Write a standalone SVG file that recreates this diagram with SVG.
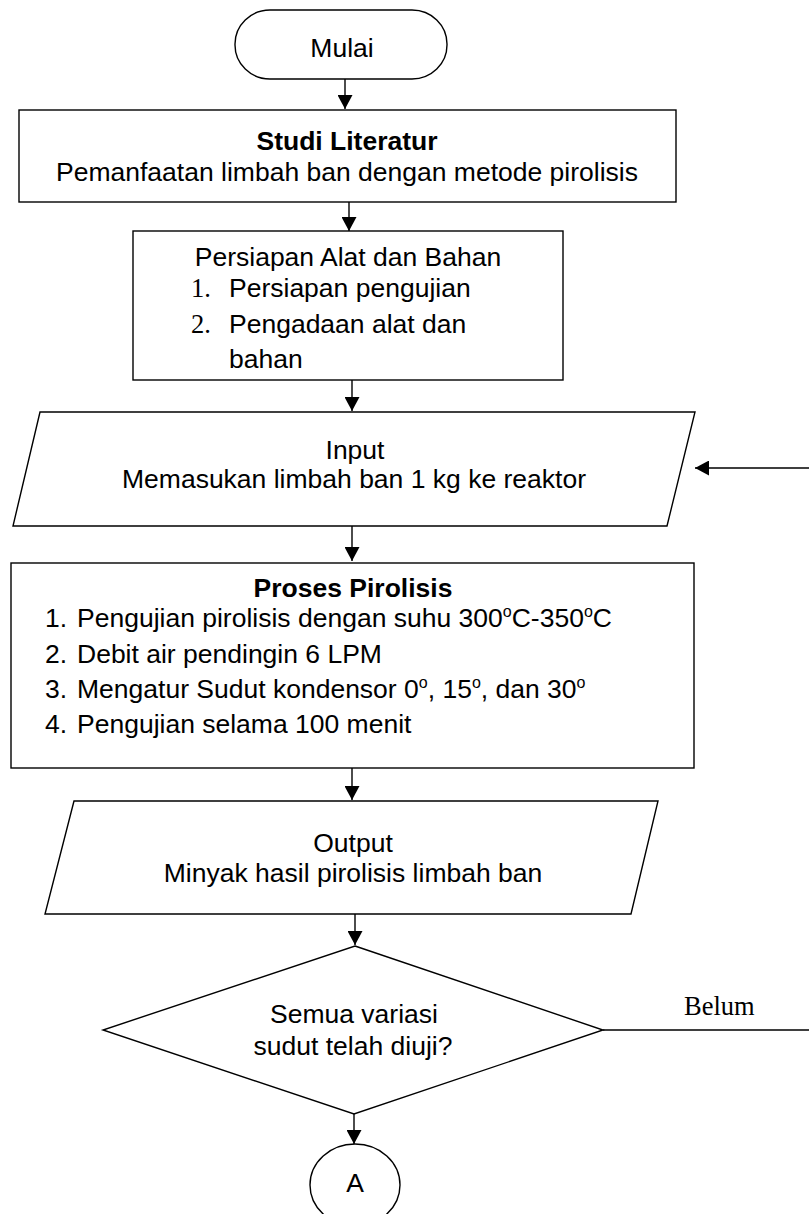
<svg xmlns="http://www.w3.org/2000/svg" width="809" height="1214" viewBox="0 0 809 1214">
<style>
.s{fill:#fff;stroke:#000;stroke-width:1.4}
.t{font-family:"Liberation Sans",Arial,sans-serif;font-size:26.5px;fill:#000}
.c{text-anchor:middle}
.b{font-weight:bold}
.r{font-family:"Liberation Serif","Times New Roman",serif;font-size:26.5px;fill:#000}
.ln{fill:none;stroke:#000;stroke-width:1.4}
.sup{font-size:16px}
</style>
<defs>
<marker id="ah" markerUnits="userSpaceOnUse" markerWidth="15" markerHeight="15" refX="14" refY="7.5" orient="auto">
<path d="M0,0 L14,7.5 L0,15 z" fill="#000"/>
</marker>
</defs>
<rect width="809" height="1214" fill="#fff"/>
<g id="connectors">
<line class="ln" x1="345" y1="79" x2="345" y2="109" marker-end="url(#ah)"/>
<line class="ln" x1="349" y1="202" x2="349" y2="231" marker-end="url(#ah)"/>
<line class="ln" x1="352" y1="380" x2="352" y2="411" marker-end="url(#ah)"/>
<line class="ln" x1="352" y1="526" x2="352" y2="561" marker-end="url(#ah)"/>
<line class="ln" x1="352" y1="768" x2="352" y2="800" marker-end="url(#ah)"/>
<line class="ln" x1="355" y1="914" x2="355" y2="945" marker-end="url(#ah)"/>
<line class="ln" x1="354" y1="1114" x2="354" y2="1144" marker-end="url(#ah)"/>
<path class="ln" d="M603,1030 H815 V468 H695" marker-end="url(#ah)"/>
<text class="r" x="684" y="1015">Belum</text>
</g>
<g id="mulai">
<rect class="s" x="235" y="10" width="212" height="69" rx="35" ry="34"/>
<text class="t c" x="342" y="57">Mulai</text>
</g>
<g id="studi">
<rect class="s" x="19" y="110" width="657" height="92"/>
<text class="t c b" x="347" y="150">Studi Literatur</text>
<text class="t c" x="347" y="181">Pemanfaatan limbah ban dengan metode pirolisis</text>
</g>
<g id="persiapan">
<rect class="s" x="133" y="231" width="430" height="149"/>
<text class="t c" x="348" y="266">Persiapan Alat dan Bahan</text>
<text class="r" x="191" y="297">1.</text>
<text class="t" x="229" y="297">Persiapan pengujian</text>
<text class="r" x="191" y="333">2.</text>
<text class="t" x="229" y="333">Pengadaan alat dan</text>
<text class="t" x="229" y="368">bahan</text>
</g>
<g id="input">
<polygon class="s" points="40,412 695,412 667,526 13,526"/>
<text class="t c" x="355" y="459">Input</text>
<text class="t c" x="354" y="488">Memasukan limbah ban 1 kg ke reaktor</text>
</g>
<g id="proses">
<rect class="s" x="11" y="563" width="683" height="205"/>
<text class="t c b" x="353" y="597">Proses Pirolisis</text>
<text class="t" x="45" y="627">1.</text>
<text class="t" x="77" y="627">Pengujian pirolisis dengan suhu 300<tspan class="sup" dy="-10">o</tspan><tspan dy="10">C-350</tspan><tspan class="sup" dy="-10">o</tspan><tspan dy="10">C</tspan></text>
<text class="t" x="45" y="663">2.</text>
<text class="t" x="77" y="663">Debit air pendingin 6 LPM</text>
<text class="t" x="45" y="698">3.</text>
<text class="t" x="77" y="698">Mengatur Sudut kondensor 0<tspan class="sup" dy="-10">o</tspan><tspan dy="10">, 15</tspan><tspan class="sup" dy="-10">o</tspan><tspan dy="10">, dan 30</tspan><tspan class="sup" dy="-10">o</tspan></text>
<text class="t" x="45" y="733">4.</text>
<text class="t" x="77" y="733">Pengujian selama 100 menit</text>
</g>
<g id="output">
<polygon class="s" points="74,801 658,801 631,914 45,914"/>
<text class="t c" x="353" y="852">Output</text>
<text class="t c" x="353" y="882">Minyak hasil pirolisis limbah ban</text>
</g>
<g id="keputusan">
<polygon class="s" points="355,946 603,1030 354,1114 103,1030"/>
<text class="t c" x="354" y="1023">Semua variasi</text>
<text class="t c" x="353" y="1055">sudut telah diuji?</text>
</g>
<g id="A">
<ellipse class="s" cx="355" cy="1185" rx="45" ry="41"/>
<text class="t c" x="355" y="1192">A</text>
</g>
</svg>
